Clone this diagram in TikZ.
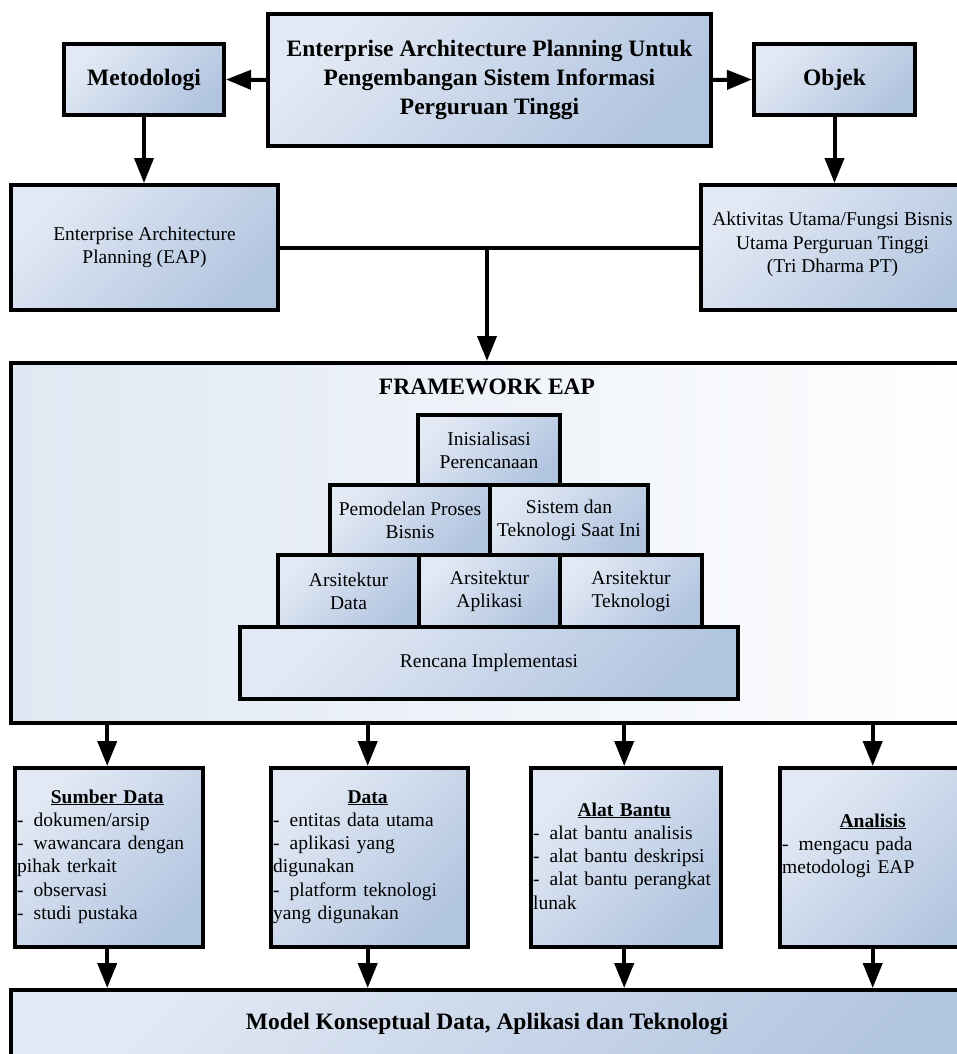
\documentclass[tikz,border=0pt]{standalone}
\usepackage{fontspec}
\setmainfont{Liberation Serif}
\usetikzlibrary{arrows.meta}

\definecolor{boxlight}{HTML}{E2E9F4}
\definecolor{boxdark}{HTML}{B2C5E0}
\definecolor{frameblue}{HTML}{E0E8F3}

\newcommand{\bigfont}{\fontsize{23.5}{29}\selectfont}
\newcommand{\txtfont}{\fontsize{19.5}{23.3}\selectfont}
\newcommand{\listdash}{\makebox[16.5pt][l]{-}}

\tikzset{
  box/.style={draw=black, line width=4pt, inner sep=0pt, anchor=north west,
    align=center, font=\txtfont,
    top color=boxlight, bottom color=boxdark, shading angle=45},
  headbox/.style={box, font=\bigfont\bfseries},
  framebox/.style={draw=black, line width=4pt, inner sep=0pt, anchor=north west,
    left color=frameblue, right color=white},
  plain/.style={inner sep=0pt, align=center, font=\txtfont},
  bodytext/.style={anchor=base west, inner sep=0pt, align=left, font=\txtfont},
  arr/.style={line width=4pt, -{Triangle[length=25pt,width=19pt]}},
  conn/.style={line width=4pt},
}

\begin{document}
\begin{tikzpicture}[x=1pt, y=-1pt]
\useasboundingbox (0,0) rectangle (957,1054);
\clip (0,0) rectangle (957,1054);

% top row
\node[headbox, minimum width=443pt, minimum height=132pt] (title) at (266,12)
  {Enterprise Architecture Planning Untuk\\Pengembangan Sistem Informasi\\Perguruan Tinggi};
\node[headbox, minimum width=160pt, minimum height=71pt] (meto) at (62,42) {Metodologi};
\node[headbox, minimum width=161pt, minimum height=71pt] (obj) at (752,42) {Objek};

% second row (the right box runs past the page edge)
\node[box, minimum width=267pt, minimum height=125pt] (eap) at (9,183)
  {Enterprise Architecture\\Planning (EAP)};
\node[box, minimum width=290pt, minimum height=125pt] (akt) at (699,183) {};
\node[plain] (akttext) at (832.5,244.5)
  {Aktivitas Utama/Fungsi Bisnis\\Utama Perguruan Tinggi\\(Tri Dharma PT)};

% framework
\node[framebox, minimum width=990pt, minimum height=360pt] (fw) at (9,361) {};
\node[font=\bigfont\bfseries, inner sep=0pt] (fwtitle) at (487,387) {FRAMEWORK EAP};

\node[box, minimum width=142pt, minimum height=70pt] (p1) at (416,413)
  {Inisialisasi\\Perencanaan};
\node[box, minimum width=160pt, minimum height=70pt] (p2a) at (328,483)
  {Pemodelan Proses\\Bisnis};
\node[box, minimum width=158pt, minimum height=70pt] (p2b) at (488,483)
  {Sistem dan\\Teknologi Saat Ini};
\node[box, minimum width=141pt, minimum height=72pt] (p3a) at (276,553)
  {Arsitektur\\Data};
\node[box, minimum width=141pt, minimum height=72pt] (p3b) at (417,553)
  {Arsitektur\\Aplikasi};
\node[box, minimum width=142pt, minimum height=72pt] (p3c) at (558,553)
  {Arsitektur\\Teknologi};
\node[box, minimum width=498pt, minimum height=72pt] (p4) at (238,625)
  {Rencana Implementasi};

% lower boxes
\node[box, minimum width=188pt, minimum height=179pt] (sd) at (13,766) {};
\node[box, minimum width=197pt, minimum height=179pt] (dt) at (269,766) {};
\node[box, minimum width=190pt, minimum height=179pt] (ab) at (529,766) {};
\node[box, minimum width=210pt, minimum height=179pt] (an) at (778,766) {};

\node[bodytext, text width=180pt] (sdtext) at (17,803)
  {\makebox[\linewidth]{\textbf{\underline{Sumber Data}}}\\
   \listdash dokumen/arsip\\
   \listdash wawancara dengan\\
   pihak terkait\\
   \listdash observasi\\
   \listdash studi pustaka};
\node[bodytext, text width=189pt] (dttext) at (273,803)
  {\makebox[\linewidth]{\textbf{\underline{Data}}}\\
   \listdash entitas data utama\\
   \listdash aplikasi yang\\
   digunakan\\
   \listdash platform teknologi\\
   yang digunakan};
\node[bodytext, text width=182pt] (abtext) at (533,816)
  {\makebox[\linewidth]{\textbf{\underline{Alat Bantu}}}\\
   \listdash alat bantu analisis\\
   \listdash alat bantu deskripsi\\
   \listdash alat bantu perangkat\\
   lunak};
\node[bodytext, text width=181pt] (antext) at (782,827)
  {\makebox[\linewidth]{\textbf{\underline{Analisis}}}\\
   \listdash mengacu pada\\
   metodologi EAP};

% bottom box (runs past the page edges)
\node[box, minimum width=990pt, minimum height=90pt] (model) at (9,988) {};
\node[font=\bigfont\bfseries, inner sep=0pt] (modeltext) at (487,1024)
  {Model Konseptual Data, Aplikasi dan Teknologi};

% connectors
\draw[arr] (title.west) -- (meto.east);
\draw[arr] (title.east) -- (obj.west);
\draw[arr] (meto.south) -- (meto.south |- eap.north);
\draw[arr] (obj.south) -- (obj.south |- akt.north);
\draw[conn] (eap.east) -- (akt.west);
\draw[arr] (fwtitle.north |- eap.east) -- (fwtitle.north |- fw.north);

\foreach \b/\t in {sd/sdtext, dt/dttext, ab/abtext, an/antext} {
  \draw[arr] (\t.north |- fw.south) -- (\t.north |- \b.north);
  \draw[arr] (\t.north |- \b.south) -- (\t.north |- model.north);
}
\end{tikzpicture}
\end{document}
